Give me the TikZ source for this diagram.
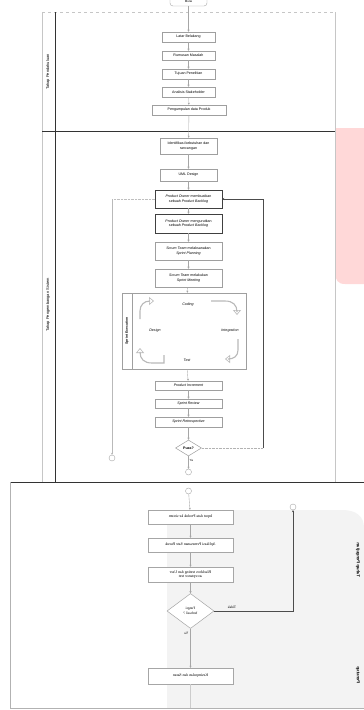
\documentclass[tikz,border=0pt]{standalone}
\usepackage{graphicx}
\usepackage{fontspec}
\setmainfont{Liberation Sans}
\newfontfamily\serifB{Liberation Serif}
\usetikzlibrary{arrows.meta,shapes.geometric}
\definecolor{pinkbg}{RGB}{255,216,216}
\definecolor{graybg}{RGB}{243,243,243}
\tikzset{
  fs/.style={font=\fontsize{3.6}{4.3}\selectfont},
  box/.style={fs,draw=gray!75,line width=0.5pt,fill=white,align=center,inner sep=1pt},
  sbox/.style={draw=gray!70,line width=0.4pt,fill=white,align=center,inner sep=1pt,font=\serifB\fontsize{3.9}{4.6}\selectfont},
  arr/.style={-{Stealth[length=2pt,width=2pt]},line width=0.35pt,draw=gray!70},
  lane/.style={font=\fontsize{4}{4.5}\selectfont},
  cyc/.style={line width=1.1pt,draw=gray!55,-{Triangle[open,length=5pt,width=8pt,line width=0.6pt]}},
  conn/.style={circle,draw=gray!70,line width=0.4pt,minimum size=6pt,inner sep=0pt,fill=white},
}
\begin{document}
\begin{tikzpicture}[x=1pt,y=-1pt]
\useasboundingbox (0,0) rectangle (364,710);
\fill[white] (0,0) rectangle (364,710);
% backgrounds
\fill[pinkbg] (335,128) -- (364,128) -- (364,284) -- (345,284) .. controls (338,284) and (335,280) .. (335,272) -- cycle;
\fill[graybg] (167,708) -- (167,510) -- (342,510) .. controls (356,510) and (364,516) .. (364,528) -- (364,708) -- cycle;
% pool 1 & 2 frame
\draw[gray!45,line width=0.4pt] (42,12) -- (42,482);
\draw[gray!45,line width=0.4pt] (335,12) -- (335,482);
\draw[gray!45,dashed,line width=0.4pt] (42,12) -- (335,12);
\draw[black!80,line width=0.6pt] (55,12) -- (55,482);
\draw[black!80,line width=0.5pt] (42,131) -- (335,131);
% pool 3 frame
\draw[black!80,line width=0.6pt] (10,482) -- (364,482);
\draw[gray!60,line width=0.5pt] (10,482) -- (10,708) -- (364,708);
% lane labels
\node[lane,rotate=90] (lp) at (48,72) {Tahap Pendahuluan};
\node[lane,rotate=90] (lps) at (48,305) {Tahap Pengembangan Sistem};
\node[lane,rotate=-90,font=\bfseries\fontsize{4.3}{5}\selectfont] (lpu) at (358,560) {\reflectbox{Tahap Pengujian}};
\node[lane,rotate=-90,font=\bfseries\fontsize{4.3}{5}\selectfont] (lpn) at (358,675) {\reflectbox{Penutup}};
% start
\node[draw=gray!70,rounded corners=3pt,minimum width=37pt,minimum height=9pt,inner sep=0pt,font=\fontsize{3}{3.5}\selectfont] (mulai) at (188.5,1.5) {Mulai};
% pool 1
\node[box,minimum width=53pt,minimum height=10pt] (l1) at (188.5,37) {Latar Belakang};
\node[box,minimum width=53pt,minimum height=9pt] (l2) at (188.5,55.5) {Rumusan Masalah};
\node[box,minimum width=53pt,minimum height=10pt] (l3) at (188.5,74) {Tujuan Penelitian};
\node[box,minimum width=53pt,minimum height=10pt] (l4) at (188.5,92) {Analisis Stakeholder};
\node[box,minimum width=74pt,minimum height=10pt] (l5) at (189,110) {Pengumpulan data Produk};
\draw[arr] (mulai) -- (l1);
\draw[arr] (l1) -- (l2);
\draw[arr] (l2) -- (l3);
\draw[arr] (l3) -- (l4);
\draw[arr] (l4) -- (l5);
% pool 2
\node[box,minimum width=57pt,minimum height=16pt] (p1) at (188.5,146) {Identifikasi kebutuhan dan\\rancangan};
\node[box,minimum width=57pt,minimum height=12pt] (p2) at (188.5,175) {UML Design};
\node[box,draw=black!75,minimum width=67pt,minimum height=18pt] (p3) at (188.5,199) {\textit{Product Owner} membuatkan\\sebuah \textit{Product Backlog}};
\node[box,draw=black!75,minimum width=67pt,minimum height=19pt] (p4) at (188.5,223.5) {\textit{Product Owner} mengurutkan\\sebuah \textit{Product Backlog}};
\node[box,minimum width=67pt,minimum height=18pt] (p5) at (188.5,251) {\textit{Scrum Team} melaksanakan\\\textit{Sprint Planning}};
\node[box,minimum width=67pt,minimum height=18pt] (p6) at (188.5,278) {\textit{Scrum Team} melakukan\\\textit{Sprint Meeting}};
\draw[arr] (l5) -- (p1);
\draw[arr] (p1) -- (p2);
\draw[arr] (p2) -- (p3);
\draw[arr] (p3) -- (p4);
\draw[arr] (p4) -- (p5);
\draw[arr] (p5) -- (p6);
% iteration block
\node[draw=gray!75,line width=0.5pt,minimum width=124pt,minimum height=76pt,inner sep=0pt] (it) at (184,331) {};
\draw[gray!75,line width=0.5pt] (132,293) -- (132,369);
\node[fs,rotate=90,font=\bfseries\fontsize{3.4}{4}\selectfont] (itl) at (127,331) {Sprint Execution};
\draw[arr] (p6) -- (it);
\node[fs,font=\itshape\fontsize{3.6}{4.3}\selectfont] (cod) at (188,305) {Coding};
\node[fs,font=\itshape\fontsize{3.6}{4.3}\selectfont] (des) at (155,331) {Design};
\node[fs,font=\itshape\fontsize{3.6}{4.3}\selectfont] (int) at (230,331) {Integration};
\node[fs,font=\itshape\fontsize{3.6}{4.3}\selectfont] (tes) at (187,360) {Test};
\draw[cyc] (140,319) -- (140,311) .. controls (140,305) and (144,301) .. (150,301) -- (154,301);
\draw[cyc] (211,301) -- (225,301) .. controls (233,301) and (237,305) .. (237,312) -- (237,315);
\draw[cyc] (238,339) -- (238,350) .. controls (238,356) and (234,359) .. (228,359) -- (225,359);
\draw[cyc] (164,355) -- (164,363) -- (152,363) .. controls (144,363) and (140,359) .. (140,352) -- (140,348);
% after iteration
\node[box,minimum width=67pt,minimum height=9pt,font=\itshape\fontsize{3.6}{4.3}\selectfont] (p7) at (188.5,385.5) {Product Increment};
\node[box,minimum width=67pt,minimum height=9pt,font=\itshape\fontsize{3.6}{4.3}\selectfont] (p8) at (188.5,403.5) {Sprint Review};
\node[box,minimum width=67pt,minimum height=10pt,font=\itshape\fontsize{3.6}{4.3}\selectfont] (p9) at (188.5,422) {Sprint Retrospective};
\node[diamond,draw=gray!75,line width=0.5pt,fill=white,minimum width=26pt,minimum height=16pt,inner sep=0pt,font=\bfseries\fontsize{3.6}{4.3}\selectfont] (d1) at (188.5,448) {Puas?};
\draw[arr] (it) -- (p7);
\draw[arr] (p7) -- (p8);
\draw[arr] (p8) -- (p9);
\draw[arr] (p9) -- (d1);
\node[conn] (c1) at (112,458) {};
\node[conn] (c2) at (188.5,472) {};
\draw[arr] (d1) -- (c2) node[fs,pos=0.35,right,inner sep=1pt,font=\fontsize{3}{3.5}\selectfont] (ya1) {Ya};
\draw[gray!60,line width=0.4pt,densely dotted] (d1.east) -- (263,448);
\draw[arr,draw=black!70] (263,448) -- (263,199) -- (p3.east);
\draw[gray!50,densely dotted,line width=0.4pt] (p3.west) -- (112,199);
\draw[arr,draw=gray!55] (112,199) -- (c1);
% pool 3
\node[conn] (c3) at (188.5,491) {};
\node[sbox,minimum width=85pt,minimum height=14pt] (a) at (190.5,517) {\reflectbox{Input data Produk ke sistem}};
\node[sbox,minimum width=85pt,minimum height=14pt] (b) at (190.5,545) {\reflectbox{Aplikasi Pemesanan Sate Buruk}};
\node[sbox,minimum width=85pt,minimum height=15pt] (c) at (190.5,574.5) {\reflectbox{\begin{tabular}{@{}c@{}}Blackbox testing dan User\\acceptance test\end{tabular}}};
\node[diamond,draw=gray!70,line width=0.5pt,fill=white,minimum width=47pt,minimum height=35pt,inner sep=0pt,font=\serifB\fontsize{3.6}{4.3}\selectfont] (d2) at (190.5,611) {\reflectbox{\begin{tabular}{@{}c@{}}Fungsi\\berhasil ?\end{tabular}}};
\node[sbox,minimum width=85pt,minimum height=16pt] (d) at (190.5,676) {\reflectbox{Kesimpulan dan Saran}};
\node[conn] (c4) at (293,507) {};
\draw[arr] (c3) -- (a);
\draw[arr] (a) -- (b);
\draw[arr] (b) -- (c);
\draw[arr] (c) -- (d2);
\draw[arr] (d2) -- (d) node[pos=0.12,left,inner sep=2pt,font=\serifB\fontsize{3.6}{4.3}\selectfont] (ya2) {\reflectbox{Ya}};
\draw[arr,draw=black!70] (d2.east) -- (293,611) -- (c4);
\node[font=\serifB\fontsize{3.6}{4.3}\selectfont] (tdk) at (232,607) {\reflectbox{Tidak}};
\draw[gray!40,line width=0.4pt] (d) -- (190.5,708);
\end{tikzpicture}
\end{document}
